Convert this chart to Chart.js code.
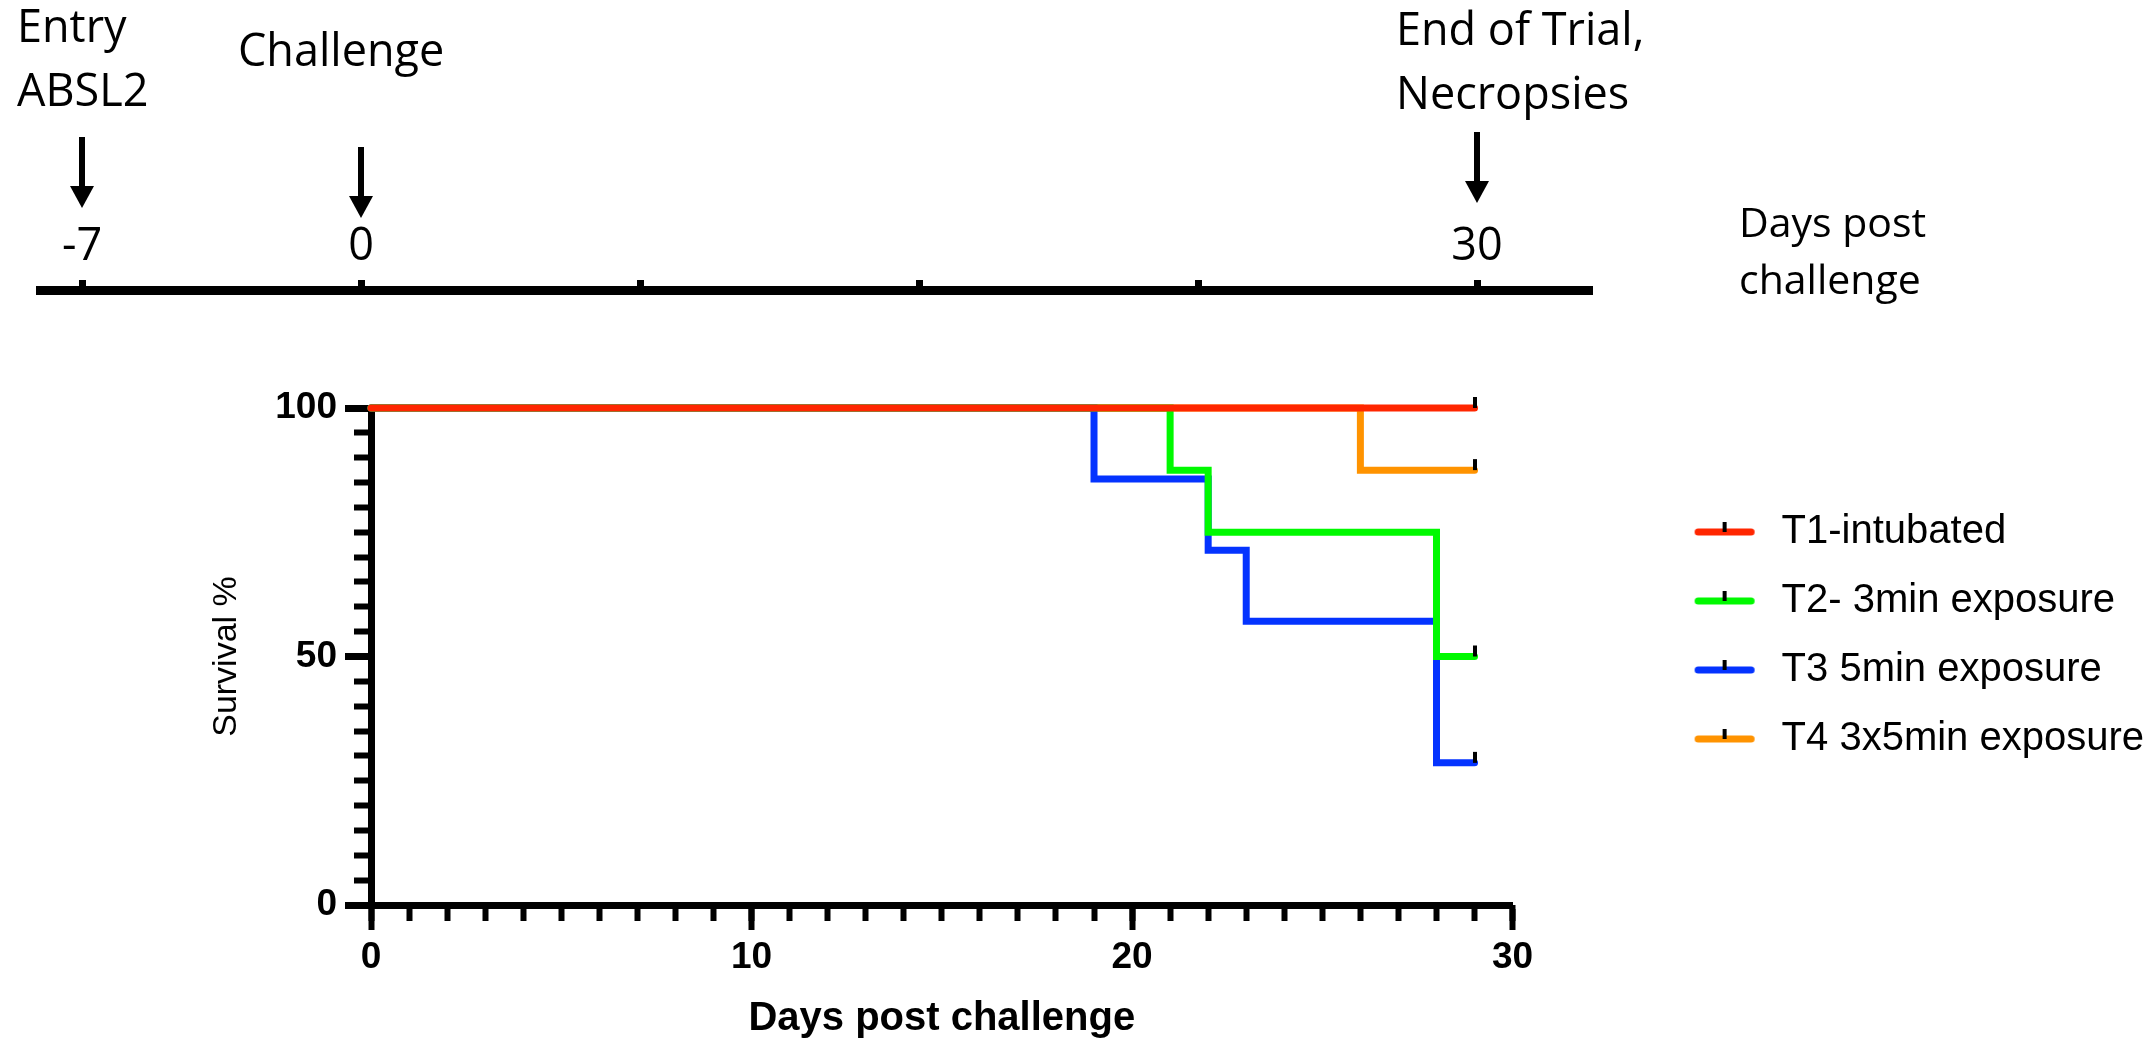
<!DOCTYPE html>
<html>
<head>
<meta charset="utf-8">
<title>Survival after challenge</title>
<script src="https://cdn.jsdelivr.net/npm/chart.js@4.4.1/dist/chart.umd.min.js"></script>
<style>
    html, body { margin: 0; padding: 0; background: #fff; }
    #wrap { position: relative; width: 2154px; height: 1041px; overflow: hidden; }
    #wrap canvas { position: absolute; left: 0; top: 0; }
</style>
</head>
<body>
<div id="wrap">
    <canvas id="survival" width="2154" height="1041"></canvas>
    <canvas id="timeline" width="2154" height="310"></canvas>
</div>
<script>
// survival curves (Kaplan-Meier steps)
const seriesNames = ['T1-intubated', 'T2- 3min exposure', 'T3 5min exposure', 'T4 3x5min exposure'];
const t1Days = [0, 29];
const t1Survival = [100, 100];
const t2Days = [0, 21, 22, 28, 29];
const t2Survival = [100, 87.5, 75, 50, 50];
const t3Days = [0, 19, 22, 23, 28, 29];
const t3Survival = [100, 85.7, 71.4, 57.1, 28.6, 28.6];
const t4Days = [0, 26, 29];
const t4Survival = [100, 87.5, 87.5];
const xMajorTicks = [0, 10, 20, 30];
const yMajorTicks = [0, 50, 100];

// study timeline drawn above the plot
const timelineTicks = [-7, 0, 7, 14, 21, 28];
const timelineTickLabels = ['-7', '0', '', '', '', '30'];
const eventTicks = [-7, 0, 28];
const eventLabels = [['Entry', 'ABSL2'], ['Challenge'], ['End of Trial,', 'Necropsies']];
const timelineTitle = ['Days post', 'challenge'];

const seriesColors = ['#FF2600', '#00F900', '#0433FF', '#FF9300'];

Chart.defaults.font.family = '"Liberation Sans", Arial, sans-serif';
Chart.defaults.color = '#000';

// little black censor tick, sits on top of the line end
function makeCensorMark() {
    const c = document.createElement('canvas');
    c.width = 4;
    c.height = 24;
    const g = c.getContext('2d');
    g.fillStyle = '#000';
    g.fillRect(0, 1, 4, 11);
    return c;
}

// legend swatch: coloured line with the censor tick, left part kept empty
function makeSwatch(color) {
    const c = document.createElement('canvas');
    c.width = 220;
    c.height = 24;
    const g = c.getContext('2d');
    g.strokeStyle = color;
    g.lineWidth = 7;
    g.lineCap = 'round';
    g.beginPath();
    g.moveTo(156.5, 12);
    g.lineTo(209.5, 12);
    g.stroke();
    g.fillStyle = '#000';
    g.fillRect(181, 2, 4, 10);
    return c;
}

const censorMark = makeCensorMark();
const daysList = [t1Days, t2Days, t3Days, t4Days];
const survivalList = [t1Survival, t2Survival, t3Survival, t4Survival];

const datasets = seriesNames.map((name, i) => ({
    label: name,
    data: daysList[i].map((d, j) => ({ x: d, y: survivalList[i][j] })),
    borderColor: seriesColors[i],
    backgroundColor: seriesColors[i],
    borderWidth: 7,
    borderCapStyle: 'round',
    borderJoinStyle: 'miter',
    stepped: 'before',
    fill: false,
    pointStyle: censorMark,
    pointRadius: ctx => (ctx.dataIndex === daysList[i].length - 1 ? 6 : 0),
    pointHoverRadius: 0,
    clip: 20
}));

new Chart(document.getElementById('survival'), {
    type: 'line',
    data: { datasets },
    options: {
        responsive: false,
        animation: false,
        devicePixelRatio: 1,
        events: [],
        layout: { padding: { top: 408, left: 0, right: 0, bottom: 0 } },
        plugins: {
            tooltip: { enabled: false },
            legend: {
                position: 'right',
                align: 'start',
                maxWidth: 700,
                title: { display: true, text: '', font: { size: 10 }, padding: { top: 63, bottom: 0 } },
                labels: {
                    usePointStyle: true,
                    pointStyleWidth: 220,
                    padding: 29,
                    color: '#000',
                    font: { size: 40 },
                    generateLabels: chart =>
                        Chart.defaults.plugins.legend.labels.generateLabels(chart).map(item => ({
                            ...item,
                            pointStyle: makeSwatch(chart.data.datasets[item.datasetIndex].borderColor),
                            rotation: 0
                        }))
                }
            }
        },
        scales: {
            x: {
                type: 'linear',
                position: 'bottom',
                min: 0,
                max: 30,
                afterBuildTicks: s => { s.ticks = xMajorTicks.map(v => ({ value: v })); },
                afterFit: s => { s.height = 136; },
                ticks: { font: { size: 37, weight: 'bold' }, padding: 6, maxRotation: 0, autoSkip: false },
                grid: { drawOnChartArea: false, tickLength: 25, tickWidth: 6, tickColor: '#000', color: '#000' },
                border: { width: 7, color: '#000' },
                title: {
                    display: true,
                    text: 'Days post challenge',
                    font: { size: 40, weight: 'bold' },
                    padding: { top: 0, bottom: -2 }
                }
            },
            xMinor: {
                type: 'linear',
                axis: 'x',
                position: { y: 0 },
                min: 0,
                max: 30,
                ticks: { display: false, stepSize: 1, autoSkip: false },
                grid: { drawOnChartArea: false, tickLength: 16, tickWidth: 6, tickColor: '#000' },
                border: { display: false }
            },
            y: {
                type: 'linear',
                position: 'left',
                min: 0,
                max: 100,
                afterBuildTicks: s => { s.ticks = yMajorTicks.map(v => ({ value: v })); },
                afterFit: s => { s.width = 371; },
                ticks: { font: { size: 37, weight: 'bold' }, padding: 8 },
                grid: { drawOnChartArea: false, tickLength: 26, tickWidth: 7, tickColor: '#000', color: '#000' },
                border: { width: 7, color: '#000' },
                title: {
                    display: true,
                    text: 'Survival %',
                    font: { size: 34 },
                    padding: { top: 206, bottom: 0 }
                }
            },
            yMinor: {
                type: 'linear',
                axis: 'y',
                position: { x: 0 },
                min: 0,
                max: 100,
                ticks: { display: false, stepSize: 5, autoSkip: false },
                grid: { drawOnChartArea: false, tickLength: 17, tickWidth: 6, tickColor: '#000' },
                border: { display: false }
            }
        }
    }
});

// arrows and notes of the timeline, placed from the timeline's x scale
const arrowTops = [137, 147, 132];
const labelDx = [-65, -123, -81];
const labelBaselines = [42, 66, 45];

const timelineNotes = {
    id: 'timelineNotes',
    afterDraw(chart) {
        const { ctx } = chart;
        const x = chart.scales.x;
        ctx.save();
        ctx.fillStyle = '#000';
        ctx.strokeStyle = '#000';
        ctx.textAlign = 'left';
        ctx.textBaseline = 'alphabetic';
        ctx.font = '45px "Open Sans"';
        eventTicks.forEach((day, i) => {
            const px = x.getPixelForValue(day);
            const top = arrowTops[i];
            const tip = top + 71;
            ctx.lineWidth = 6;
            ctx.beginPath();
            ctx.moveTo(px, top);
            ctx.lineTo(px, tip - 20);
            ctx.stroke();
            ctx.beginPath();
            ctx.moveTo(px - 12, tip - 22);
            ctx.lineTo(px + 12, tip - 22);
            ctx.lineTo(px, tip);
            ctx.closePath();
            ctx.fill();
            eventLabels[i].forEach((line, j) => {
                ctx.fillText(line, px + labelDx[i], labelBaselines[i] + j * 64);
            });
        });
        ctx.font = '41px "Open Sans"';
        timelineTitle.forEach((line, j) => ctx.fillText(line, 1739, 237 + j * 57));
        ctx.restore();
    }
};

new Chart(document.getElementById('timeline'), {
    type: 'line',
    data: { datasets: [] },
    options: {
        responsive: false,
        animation: false,
        devicePixelRatio: 1,
        events: [],
        layout: { padding: { top: 0, left: 40, right: 562, bottom: 0 } },
        plugins: { legend: { display: false }, tooltip: { enabled: false } },
        scales: {
            x: {
                type: 'linear',
                position: 'top',
                min: -8.054,
                max: 30.885,
                afterBuildTicks: s => { s.ticks = timelineTicks.map(v => ({ value: v })); },
                afterFit: s => { s.height = 290; },
                ticks: {
                    font: { family: 'Open Sans', size: 45 },
                    padding: 6,
                    maxRotation: 0,
                    autoSkip: false,
                    callback: (value, index) => timelineTickLabels[index]
                },
                grid: { drawOnChartArea: false, tickLength: 10, tickWidth: 7, tickColor: '#000', color: '#000' },
                border: { width: 9, color: '#000' }
            },
            y: { display: false, min: 0, max: 1 }
        }
    },
    plugins: [timelineNotes]
});
</script>
</body>
</html>
